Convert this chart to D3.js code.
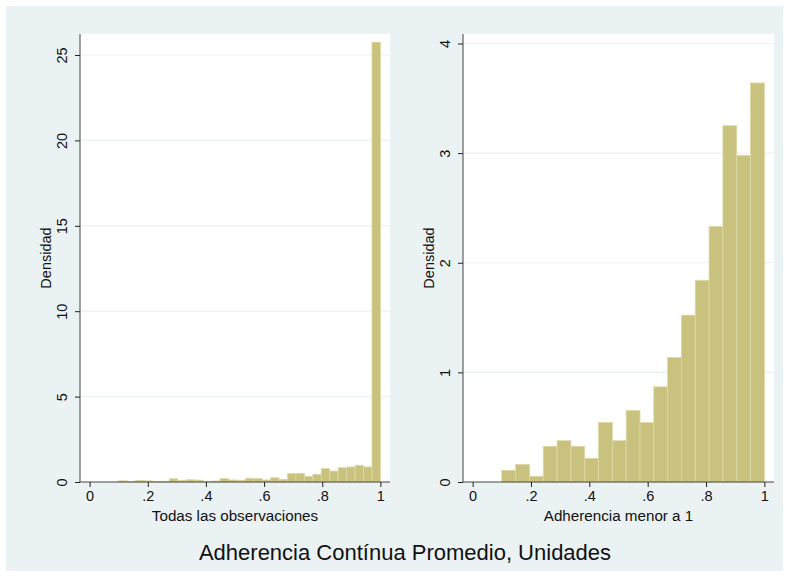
<!DOCTYPE html>
<html>
<head>
<meta charset="utf-8">
<script src="https://cdn.jsdelivr.net/npm/d3@7"></script>
<style>
  body { margin: 0; background: #fff; }
  text { font-family: "Liberation Sans", Arial, sans-serif; fill: #111; }
</style>
</head>
<body>
<div id="chart"></div>
<script>
// histogram bins: lower edge 0.1, upper edge 1
var allStart = 0.1, allEnd = 1.0;
var allDensity = [0.07, 0.02, 0.09, 0.07, 0.03, 0.04, 0.19, 0.09, 0.13, 0.11,
                  0.03, 0.06, 0.20, 0.12, 0.10, 0.22, 0.20, 0.12, 0.25, 0.16,
                  0.49, 0.51, 0.33, 0.45, 0.78, 0.64, 0.84, 0.88, 0.98, 0.88, 25.75];
var subStart = 0.1, subEnd = 1.0;
var subDensity = [0.107, 0.161, 0.052, 0.326, 0.377, 0.326, 0.216, 0.542, 0.377, 0.651,
                  0.542, 0.868, 1.135, 1.522, 1.84, 2.33, 3.25, 2.98, 3.64];

var xTicks = [0, 0.2, 0.4, 0.6, 0.8, 1];
var allYTicks = [0, 5, 10, 15, 20, 25];
var subYTicks = [0, 1, 2, 3, 4];
var yLabel = "Densidad";
var allXLabel = "Todas las observaciones";
var subXLabel = "Adherencia menor a 1";
var mainTitle = "Adherencia Contínua Promedio, Unidades";

var W = 789, H = 577;
var svg = d3.select("#chart").append("svg")
    .attr("width", W)
    .attr("height", H);

// graph region
svg.append("rect")
    .attr("x", 6).attr("y", 6)
    .attr("width", 777).attr("height", 565)
    .attr("fill", "#eaf2f3");

function fmt(d) {
    if (d === 0 || d === 1) return String(d);
    return String(d).replace(/^0/, "");
}

function panel(opts) {
    var g = svg.append("g");
    var left = opts.left, right = opts.right, top = 34, bottom = 482;

    var x = d3.scaleLinear().domain([-0.033, 1.033]).range([left, right]);
    // top tick value sits at a fixed pixel row
    var y = d3.scaleLinear().domain([0, opts.yRef]).range([bottom, opts.yRefPx]);

    g.append("rect")
        .attr("x", left).attr("y", top)
        .attr("width", right - left).attr("height", bottom - top)
        .attr("fill", "#fff");

    // gridlines
    g.selectAll(".grid")
        .data(opts.yTicks.filter(function (d) { return d > 0; }))
        .enter().append("line")
        .attr("x1", left).attr("x2", right)
        .attr("y1", function (d) { return y(d); })
        .attr("y2", function (d) { return y(d); })
        .attr("stroke", "#eaf2f3")
        .attr("stroke-width", 1.2);

    var n = opts.data.length;
    var w = (opts.end - opts.start) / n;
    g.selectAll(".bar")
        .data(opts.data)
        .enter().append("rect")
        .attr("x", function (d, i) { return x(opts.start + i * w); })
        .attr("width", function (d, i) { return x(opts.start + (i + 1) * w) - x(opts.start + i * w); })
        .attr("y", function (d) { return y(d); })
        .attr("height", function (d) { return bottom - y(d); })
        .attr("fill", "#c9c27e")
        .attr("stroke", "#ddd8a3")
        .attr("stroke-width", 0.8);

    var xAxis = g.append("g")
        .attr("transform", "translate(0," + bottom + ")")
        .call(d3.axisBottom(x).tickValues(xTicks).tickFormat(fmt).tickSize(5).tickPadding(4));
    xAxis.select(".domain").attr("d", "M" + left + ",0H" + right).attr("stroke", "#444");
    xAxis.selectAll(".tick line").attr("stroke", "#222");
    xAxis.selectAll("text").attr("font-size", 14.5).attr("fill", "#111")
        .style("font-family", "'Liberation Sans', Arial, sans-serif");

    var yAxis = g.append("g")
        .attr("transform", "translate(" + left + ",0)")
        .call(d3.axisLeft(y).tickValues(opts.yTicks).tickFormat(d3.format("d")).tickSize(5).tickPadding(0));
    yAxis.select(".domain").attr("d", "M0," + top + "V" + bottom).attr("stroke", "#444");
    yAxis.selectAll(".tick line").attr("stroke", "#222");
    yAxis.selectAll("text")
        .attr("x", null).attr("dy", null)
        .attr("text-anchor", "middle")
        .attr("transform", "translate(-13,0) rotate(-90)")
        .attr("font-size", 14.5).attr("fill", "#111")
        .style("font-family", "'Liberation Sans', Arial, sans-serif");

    g.append("text")
        .attr("transform", "translate(" + (left - 29) + "," + ((top + bottom) / 2) + ") rotate(-90)")
        .attr("text-anchor", "middle")
        .attr("font-size", 14.5)
        .text(yLabel);

    g.append("text")
        .attr("x", (left + right) / 2)
        .attr("y", 521)
        .attr("text-anchor", "middle")
        .attr("font-size", 15.2)
        .text(opts.xLabel);
}

panel({left: 80, right: 390, data: allDensity, start: allStart, end: allEnd,
       yTicks: allYTicks, yRef: 25, yRefPx: 55, xLabel: allXLabel});
panel({left: 463, right: 774, data: subDensity, start: subStart, end: subEnd,
       yTicks: subYTicks, yRef: 4, yRefPx: 43.5, xLabel: subXLabel});

svg.append("text")
    .attr("x", 405)
    .attr("y", 560)
    .attr("text-anchor", "middle")
    .attr("font-size", 22)
    .text(mainTitle);
</script>
</body>
</html>
